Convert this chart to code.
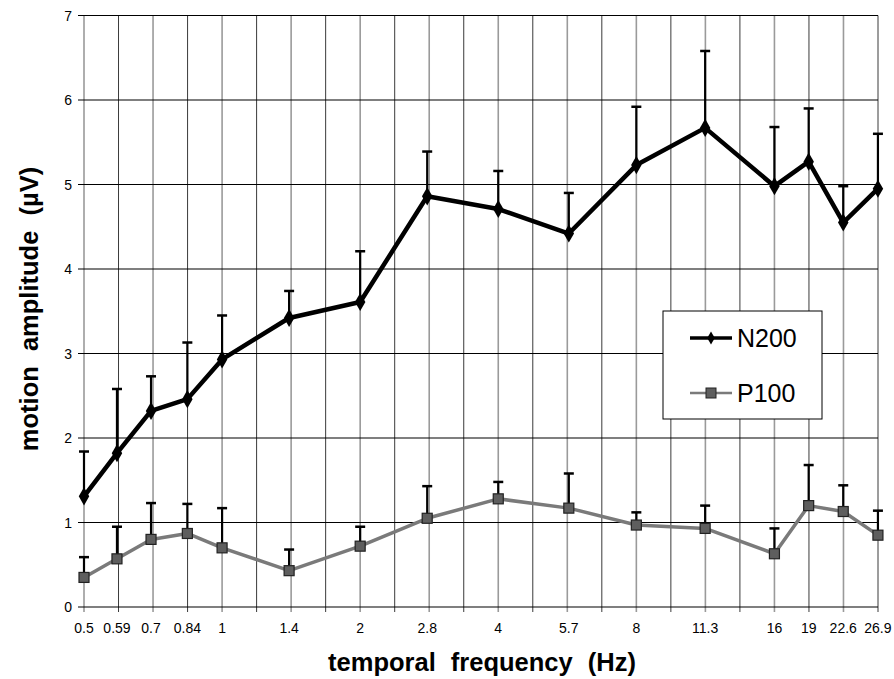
<!DOCTYPE html>
<html>
<head>
<meta charset="utf-8">
<script src="https://cdn.jsdelivr.net/npm/d3@7"></script>
<style>
	body { margin: 0; background: #fff; }
	svg { font-family: "Liberation Sans", Arial, sans-serif; }
</style>
</head>
<body>
<div id="canvas"></div>
<script>
// temporal frequencies (Hz), as printed on the axis
const freqLabels = ["0.5", "0.59", "0.7", "0.84", "1", "1.4", "2", "2.8", "4", "5.7", "8", "11.3", "16", "19", "22.6", "26.9"];
const freqs = [0.5, 0.59, 0.7, 0.84, 1, 1.4, 2, 2.8, 4, 5.7, 8, 11.3, 16, 19, 22.6, 26.9];

// mean amplitudes (µV) and top of the error bar
const n200 = [1.31, 1.82, 2.32, 2.46, 2.93, 3.42, 3.61, 4.86, 4.71, 4.42, 5.23, 5.67, 4.98, 5.27, 4.55, 4.95];
const n200Err = [1.84, 2.58, 2.73, 3.13, 3.45, 3.74, 4.21, 5.39, 5.16, 4.90, 5.92, 6.58, 5.68, 5.90, 4.98, 5.60];
const p100 = [0.35, 0.57, 0.80, 0.87, 0.70, 0.43, 0.72, 1.05, 1.28, 1.17, 0.97, 0.93, 0.63, 1.20, 1.13, 0.85];
const p100Err = [0.59, 0.95, 1.23, 1.22, 1.17, 0.68, 0.95, 1.43, 1.48, 1.58, 1.12, 1.20, 0.93, 1.68, 1.44, 1.14];

const yTicks = [0, 1, 2, 3, 4, 5, 6, 7];
// quarter-octave grid, 0.5 Hz up to 26.9 Hz
const gridSteps = d3.range(0, 24);

let width = 894;
let height = 679;
let margin = { left: 84, right: 16, top: 15.5, bottom: 72 };

let svg = d3
	.select("#canvas")
	.append("svg")
	.attr("width", width)
	.attr("height", height);

let x = d3
	.scaleLog()
	.base(2)
	.domain([0.5, 0.5 * Math.pow(2, 23 / 4)])
	.range([margin.left, width - margin.right]);

let y = d3
	.scaleLinear()
	.domain([0, 7])
	.range([height - margin.bottom, margin.top]);

// vertical grid
svg
	.append("g")
	.selectAll("line")
	.data(gridSteps)
	.enter()
	.append("line")
	.attr("x1", (k) => x(0.5 * Math.pow(2, k / 4)))
	.attr("x2", (k) => x(0.5 * Math.pow(2, k / 4)))
	.attr("y1", y(7))
	.attr("y2", y(0) + 5)
	.attr("stroke", (k) => (k % 2 === 0 ? "#9a9a9a" : "#3a3a3a"))
	.attr("stroke-width", (k) => (k % 2 === 0 ? 1.6 : 1));

// horizontal grid
svg
	.append("g")
	.selectAll("line")
	.data(yTicks)
	.enter()
	.append("line")
	.attr("x1", x.range()[0] - 6)
	.attr("x2", x.range()[1])
	.attr("y1", (d) => y(d))
	.attr("y2", (d) => y(d))
	.attr("stroke", "#000")
	.attr("stroke-width", 1.2);

// y tick labels
svg
	.append("g")
	.selectAll("text")
	.data(yTicks)
	.enter()
	.append("text")
	.attr("x", x.range()[0] - 12)
	.attr("y", (d) => y(d))
	.attr("dy", "0.36em")
	.attr("text-anchor", "end")
	.attr("font-size", 14)
	.text((d) => d);

// x tick labels
svg
	.append("g")
	.selectAll("text")
	.data(freqs)
	.enter()
	.append("text")
	.attr("x", (d) => x(d))
	.attr("y", y(0) + 26)
	.attr("text-anchor", "middle")
	.attr("font-size", 14)
	.text((d, i) => freqLabels[i]);

// axis titles
svg
	.append("text")
	.attr("x", 482)
	.attr("y", 671)
	.attr("text-anchor", "middle")
	.attr("font-size", 25.5)
	.attr("font-weight", "bold")
	.attr("word-spacing", 8)
	.text("temporal frequency (Hz)");

svg
	.append("text")
	.attr("transform", "translate(38," + 309 + ") rotate(-90)")
	.attr("text-anchor", "middle")
	.attr("font-size", 25.5)
	.attr("font-weight", "bold")
	.attr("word-spacing", 8)
	.text("motion amplitude (µV)");

let series = [
	{ name: "N200", values: n200, err: n200Err, color: "#000", width: 4.5, marker: "diamond" },
	{ name: "P100", values: p100, err: p100Err, color: "#7a7a7a", width: 3.5, marker: "square" },
];

let line = d3
	.line()
	.x((d) => x(d.f))
	.y((d) => y(d.v));

series.forEach((s) => {
	let pts = freqs.map((f, i) => ({ f: f, v: s.values[i], e: s.err[i] }));
	let g = svg.append("g");

	// one-sided error bars
	g.selectAll(".bar")
		.data(pts)
		.enter()
		.append("line")
		.attr("x1", (d) => x(d.f))
		.attr("x2", (d) => x(d.f))
		.attr("y1", (d) => y(d.v))
		.attr("y2", (d) => y(d.e))
		.attr("stroke", "#000")
		.attr("stroke-width", 2.2);
	g.selectAll(".cap")
		.data(pts)
		.enter()
		.append("line")
		.attr("x1", (d) => x(d.f) - 5)
		.attr("x2", (d) => x(d.f) + 5)
		.attr("y1", (d) => y(d.e))
		.attr("y2", (d) => y(d.e))
		.attr("stroke", "#000")
		.attr("stroke-width", 2.5);

	g.append("path")
		.datum(pts)
		.attr("fill", "none")
		.attr("stroke", s.color)
		.attr("stroke-width", s.width)
		.attr("stroke-linejoin", "round")
		.attr("d", line);

	if (s.marker === "diamond") {
		g.selectAll(".m")
			.data(pts)
			.enter()
			.append("path")
			.attr("d", d3.symbol().type(d3.symbolDiamond).size(95))
			.attr("transform", (d) => "translate(" + x(d.f) + "," + y(d.v) + ")")
			.attr("fill", "#000");
	} else {
		g.selectAll(".m")
			.data(pts)
			.enter()
			.append("rect")
			.attr("x", (d) => x(d.f) - 5)
			.attr("y", (d) => y(d.v) - 5)
			.attr("width", 10)
			.attr("height", 10)
			.attr("fill", "#5e5e5e")
			.attr("stroke", "#222")
			.attr("stroke-width", 1.2);
	}
});

// legend
let legend = svg.append("g").attr("transform", "translate(663,311)");
legend
	.append("rect")
	.attr("width", 159)
	.attr("height", 108)
	.attr("fill", "#fff")
	.attr("stroke", "#000")
	.attr("stroke-width", 1);

series.forEach((s, i) => {
	let ly = 27 + i * 55;
	legend
		.append("line")
		.attr("x1", 27)
		.attr("x2", 69)
		.attr("y1", ly)
		.attr("y2", ly)
		.attr("stroke", s.color)
		.attr("stroke-width", s.name === "N200" ? 3.5 : 2.5);
	if (s.marker === "diamond") {
		legend
			.append("path")
			.attr("d", d3.symbol().type(d3.symbolDiamond).size(50))
			.attr("transform", "translate(48," + ly + ")")
			.attr("fill", "#000");
	} else {
		legend
			.append("rect")
			.attr("x", 43)
			.attr("y", ly - 5)
			.attr("width", 10)
			.attr("height", 10)
			.attr("fill", "#5e5e5e")
			.attr("stroke", "#222");
	}
	legend
		.append("text")
		.attr("x", 74)
		.attr("y", ly)
		.attr("dy", "0.36em")
		.attr("font-size", 25)
		.text(s.name);
});
</script>
</body>
</html>
